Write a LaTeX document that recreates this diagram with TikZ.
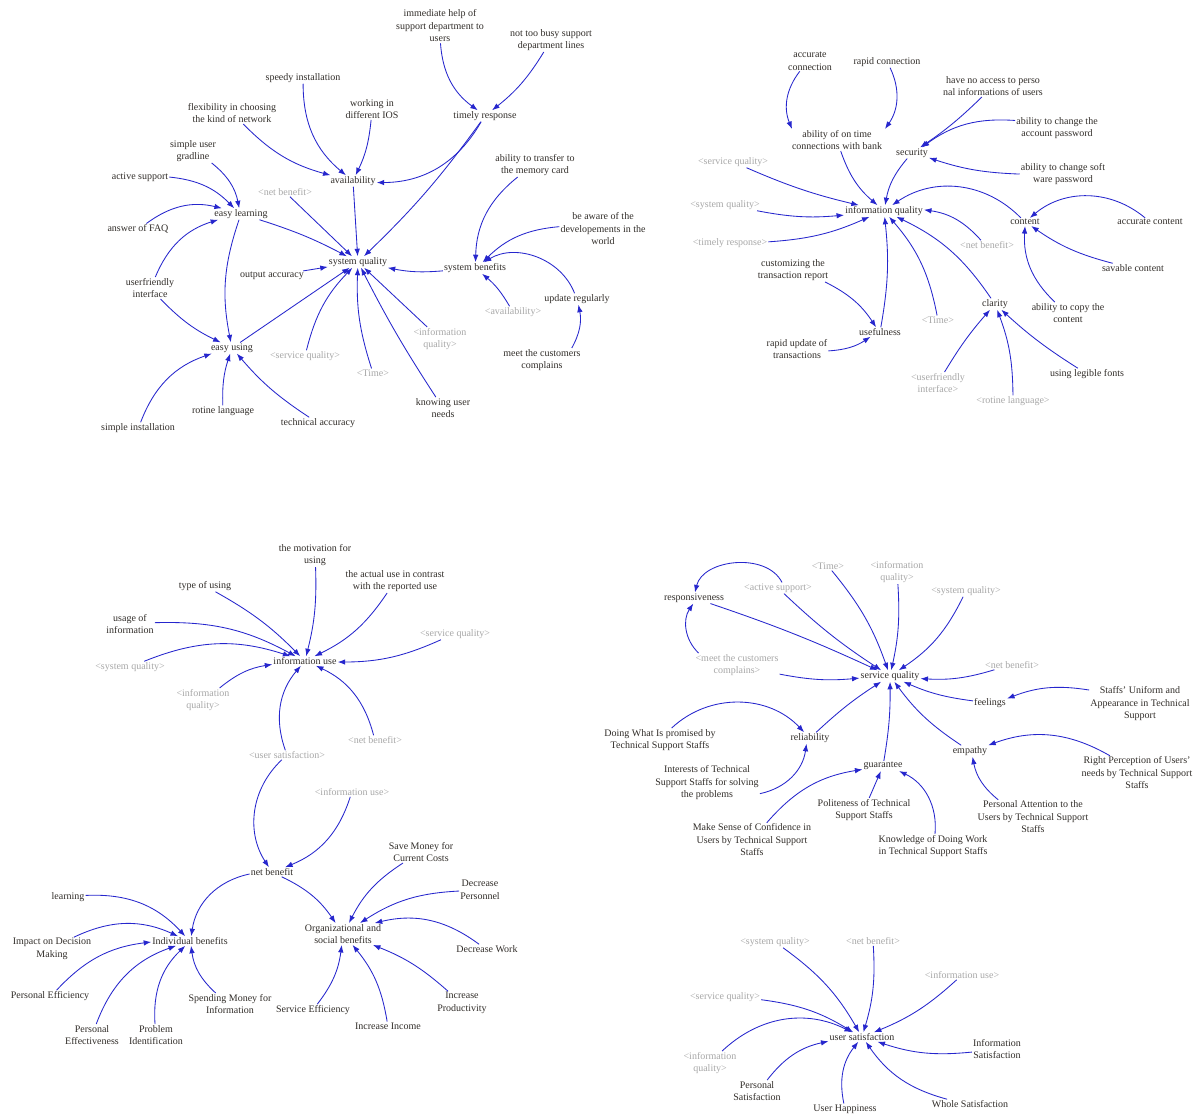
\documentclass[tikz,border=0pt]{standalone}
\usepackage{fontspec}
\setmainfont{Liberation Serif}
\usetikzlibrary{arrows.meta}
\definecolor{ink}{RGB}{50,46,42}
\definecolor{shade}{RGB}{168,168,168}
\definecolor{linkblue}{RGB}{38,38,205}
\newcommand\vsfont{\fontsize{10}{12.5}\selectfont}
\tikzset{
  v/.style={font=\vsfont, text=ink, align=center, inner sep=1pt},
  g/.style={v, text=shade},
  arr/.style={draw=linkblue, line width=0.85pt, -{Latex[length=7.5pt,width=5.5pt]}}
}
\begin{document}
\begin{tikzpicture}[x=1pt,y=-1pt]
\useasboundingbox[fill=white] (0,0) rectangle (1204,1117);

% ---------------- system quality ----------------
\node[v] (imh) at (440,26) {immediate help of\\support department to\\users};
\node[v] (ntb) at (551,40) {not too busy support\\department lines};
\node[v] (tr) at (485,116) {timely response};
\node[v] (spi) at (303,78) {speedy installation};
\node[v] (flx) at (232,113) {flexibility in choosing\\the kind of network};
\node[v] (wdi) at (372,109) {working in\\different IOS};
\node[v] (sug) at (193,151) {simple user\\gradline};
\node[v] (av) at (353,181) {availability};
\node[v] (acs) at (140,177) {active support};
\node[g] (nb1) at (285,192) {<net benefit>};
\node[v] (el) at (241,214) {easy learning};
\node[v] (atm) at (535,165) {ability to transfer to\\the memory card};
\node[v] (faq) at (138,229) {answer of FAQ};
\node[v] (bea) at (603,229) {be aware of the\\developements in the\\world};
\node[v] (sq) at (358,262) {system quality};
\node[v] (oa) at (272,276) {output accuracy};
\node[v] (sb) at (475,268) {system benefits};
\node[v] (ufi) at (150,288) {userfriendly\\interface};
\node[v] (ur) at (577,299) {update regularly};
\node[g] (av1) at (513,312) {<availability>};
\node[g] (iq1) at (440,339) {<information\\quality>};
\node[v] (eu) at (232,348) {easy using};
\node[g] (svq1) at (305,356) {<service quality>};
\node[v] (mcc) at (542,360) {meet the customers\\complains};
\node[g] (tm1) at (373,373) {<Time>};
\node[v] (kun) at (443,408) {knowing user\\needs};
\node[v] (rl) at (223,411) {rotine language};
\node[v] (ta) at (318,423) {technical accuracy};
\node[v] (si) at (138,428) {simple installation};

\draw[arr] (imh) to[bend right=25] (tr);
\draw[arr] (ntb) to[bend left=10] (tr);
\draw[arr] (tr) to[bend left=30] (av);
\draw[arr] (tr) to[bend left=5] (sq);
\draw[arr] (spi) to[bend right=25] (av);
\draw[arr] (wdi) to[bend left=10] (av);
\draw[arr] (flx) to[bend right=15] (av);
\draw[arr] (av) -- (sq);
\draw[arr] (nb1) -- (sq);
\draw[arr] (el) to[bend left=5] (sq);
\draw[arr] (acs) to[bend left=20] (el);
\draw[arr] (sug) to[bend left=20] (el);
\draw[arr] (faq) to[bend left=25] (el);
\draw[arr] (ufi) to[bend left=25] (el);
\draw[arr] (ufi) to[bend right=10] (eu);
\draw[arr] (el) to[bend right=15] (eu);
\draw[arr] (eu) -- (sq);
\draw[arr] (oa) -- (sq);
\draw[arr] (svq1) to[bend left=15] (sq);
\draw[arr] (tm1) to[bend left=10] (sq);
\draw[arr] (iq1) -- (sq);
\draw[arr] (kun) to[bend left=3] (sq);
\draw[arr] (sb) to[bend left=8] (sq);
\draw[arr] (si) to[bend left=25] (eu);
\draw[arr] (rl) to[bend left=10] (eu);
\draw[arr] (ta) to[bend left=8] (eu);
\draw[arr] (atm) to[bend right=25] (sb);
\draw[arr] (bea) to[bend right=20] (sb);
\draw[arr] (ur) to[bend right=50] (sb);
\draw[arr] (av1) to[bend right=10] (sb);
\draw[arr] ([xshift=-10pt]mcc.north east) to[bend right=20] (ur);

% ---------------- information quality ----------------
\node[v] (acn) at (810,61) {accurate\\connection};
\node[v] (rcn) at (887,62) {rapid connection};
\node[v] (hna) at (993,86) {have no access to perso\\nal informations of users};
\node[v] (acp) at (1057,128) {ability to change the\\account password};
\node[v] (aot) at (837,140) {ability of on time\\connections with bank};
\node[v] (sec) at (912,153) {security};
\node[g] (svq2) at (733,162) {<service quality>};
\node[v] (asp) at (1063,174) {ability to change soft\\ware password};
\node[g] (sq2) at (725,205) {<system quality>};
\node[v] (iq) at (884,211) {information quality};
\node[v] (cnt) at (1025,222) {content};
\node[v] (acc) at (1150,222) {accurate content};
\node[g] (tr2) at (730,243) {<timely response>};
\node[g] (nb2) at (987,245) {<net benefit>};
\node[v] (ctr) at (793,270) {customizing the\\transaction report};
\node[v] (svc) at (1133,268) {savable content};
\node[v] (clr) at (995,304) {clarity};
\node[v] (acy) at (1068,313) {ability to copy the\\content};
\node[g] (tm2) at (938,320) {<Time>};
\node[v] (usf) at (880,332) {usefulness};
\node[v] (rut) at (797,349) {rapid update of\\transactions};
\node[v] (ulf) at (1087,374) {using legible fonts};
\node[g] (ufi2) at (938,383) {<userfriendly\\interface>};
\node[g] (rl2) at (1013,401) {<rotine language>};

\draw[arr] (acn) to[bend right=30] ([xshift=-45pt]aot.north);
\draw[arr] (rcn) to[bend left=30] ([xshift=48pt]aot.north);
\draw[arr] (hna) to[bend left=5] (sec);
\draw[arr] (acp) to[bend right=20] (sec);
\draw[arr] (asp) to[bend left=8] (sec);
\draw[arr] (sec) to[bend right=15] (iq);
\draw[arr] (aot) to[bend right=15] (iq);
\draw[arr] (svq2) to[bend right=5] (iq);
\draw[arr] (sq2) to[bend right=8] (iq);
\draw[arr] (tr2) to[bend right=10] (iq);
\draw[arr] (cnt) to[bend right=40] (iq);
\draw[arr] (nb2) to[bend right=20] (iq);
\draw[arr] (acc) to[bend right=40] (cnt);
\draw[arr] (svc) to[bend left=10] (cnt);
\draw[arr] (acy) to[bend left=25] (cnt);
\draw[arr] (clr) to[bend right=15] (iq);
\draw[arr] (tm2) to[bend right=15] (iq);
\draw[arr] (usf) to[bend right=8] (iq);
\draw[arr] (ctr) to[bend left=15] (usf);
\draw[arr] (rut) to[bend right=15] (usf);
\draw[arr] (ufi2) to[bend left=5] (clr);
\draw[arr] (rl2) to[bend right=10] (clr);
\draw[arr] (ulf) to[bend left=5] (clr);

% ---------------- information use and net benefit ----------------
\node[v] (mfu) at (315,555) {the motivation for\\using};
\node[v] (tou) at (205,586) {type of using};
\node[v] (aur) at (395,581) {the actual use in contrast\\with the reported use};
\node[v] (uoi) at (130,624) {usage of\\information};
\node[g] (svq3) at (455,634) {<service quality>};
\node[g] (sq3) at (130,667) {<system quality>};
\node[v] (iu) at (305,661) {information use};
\node[g] (iq3) at (203,700) {<information\\quality>};
\node[g] (nb3) at (375,740) {<net benefit>};
\node[g] (us3) at (287,755) {<user satisfaction>};
\node[g] (iu3) at (352,792) {<information use>};
\node[v] (nb) at (272,872) {net benefit};
\node[v] (smc) at (421,852) {Save Money for\\Current Costs};
\node[v] (dp) at (480,890) {Decrease\\Personnel};
\node[v] (lrn) at (68,897) {learning};
\node[v] (osb) at (343,934) {Organizational and\\social benefits};
\node[v] (idm) at (52,949) {Impact on Decision\\Making};
\node[v] (ib) at (190,941) {Individual benefits};
\node[v] (dw) at (487,949) {Decrease Work};
\node[v] (pef) at (50,996) {Personal Efficiency};
\node[v] (smi) at (230,1004) {Spending Money for\\Information};
\node[v] (ip) at (462,1003) {Increase\\Productivity};
\node[v] (sef) at (313,1010) {Service Efficiency};
\node[v] (pet) at (92,1035) {Personal\\Effectiveness};
\node[v] (pid) at (156,1035) {Problem\\Identification};
\node[v] (ii) at (388,1026) {Increase Income};

\draw[arr] (mfu) to[bend left=8] (iu);
\draw[arr] (tou) to[bend left=8] (iu);
\draw[arr] (aur) to[bend left=15] (iu);
\draw[arr] (uoi) to[bend left=15] (iu);
\draw[arr] (sq3) to[bend left=20] (iu);
\draw[arr] (svq3) to[bend left=12] (iu);
\draw[arr] (iq3) to[bend left=15] (iu);
\draw[arr] (nb3) to[bend right=25] (iu);
\draw[arr] (us3) to[bend left=30] (iu);
\draw[arr] (us3) to[bend right=40] (nb);
\draw[arr] (iu3) to[bend left=25] (nb);
\draw[arr] (nb) to[bend right=35] (ib);
\draw[arr] (nb) to[bend left=15] (osb);
\draw[arr] (smc) to[bend right=15] (osb);
\draw[arr] (dp) to[bend right=15] (osb);
\draw[arr] (dw) to[bend right=25] (osb);
\draw[arr] (ip) to[bend right=10] (osb);
\draw[arr] (ii) to[bend right=15] (osb);
\draw[arr] (sef) to[bend right=15] (osb);
\draw[arr] (lrn) to[bend left=25] (ib);
\draw[arr] (idm) to[bend left=25] (ib);
\draw[arr] (pef) to[bend left=20] (ib);
\draw[arr] (pet) to[bend left=25] (ib);
\draw[arr] (pid) to[bend left=25] (ib);
\draw[arr] (smi) to[bend left=20] (ib);

% ---------------- service quality ----------------
\node[g] (tm4) at (828,566) {<Time>};
\node[g] (iq4) at (897,572) {<information\\quality>};
\node[v] (rsp) at (694,598) {responsiveness};
\node[g] (as4) at (778,588) {<active support>};
\node[g] (sq4) at (966,591) {<system quality>};
\node[g] (mcc4) at (737,665) {<meet the customers\\complains>};
\node[g] (nb4) at (1012,665) {<net benefit>};
\node[v] (svq) at (890,676) {service quality};
\node[v] (suf) at (1140,704) {Staffs' Uniform and\\Appearance in Technical\\Support};
\node[v] (fel) at (990,703) {feelings};
\node[v] (dwp) at (660,740) {Doing What Is promised by\\Technical Support Staffs};
\node[v] (rel) at (810,738) {reliability};
\node[v] (emp) at (970,751) {empathy};
\node[v] (rpu) at (1137,773) {Right Perception of Users'\\needs by Technical Support\\Staffs};
\node[v] (gua) at (883,766) {guarantee};
\node[v] (its) at (707,783) {Interests of Technical\\Support Staffs for solving\\the problems};
\node[v] (pot) at (864,810) {Politeness of Technical\\Support Staffs};
\node[v] (pat) at (1033,817) {Personal Attention to the\\Users by Technical Support\\Staffs};
\node[v] (msc) at (752,840) {Make Sense of Confidence in\\Users by Technical Support\\Staffs};
\node[v] (kdw) at (933,846) {Knowledge of Doing Work\\in Technical Support Staffs};

\draw[arr] ([xshift=4pt]as4.north) to[bend right=70] (rsp);
\draw[arr] (mcc4) to[bend left=40] (rsp);
\draw[arr] (rsp) to[bend left=3] (svq);
\draw[arr] (as4) to[bend right=5] (svq);
\draw[arr] (tm4) to[bend left=10] (svq);
\draw[arr] (iq4) to[bend left=8] (svq);
\draw[arr] (sq4) to[bend left=15] (svq);
\draw[arr] (nb4) to[bend left=10] (svq);
\draw[arr] (mcc4) to[bend right=8] (svq);
\draw[arr] (fel) to[bend left=8] (svq);
\draw[arr] (suf) to[bend right=15] (fel);
\draw[arr] (rel) to[bend left=5] (svq);
\draw[arr] (gua) to[bend right=5] (svq);
\draw[arr] (emp) to[bend left=10] (svq);
\draw[arr] (dwp) to[bend left=45] (rel);
\draw[arr] (its) to[bend right=35] (rel);
\draw[arr] (msc) to[bend left=20] (gua);
\draw[arr] (pot) -- (gua);
\draw[arr] ([xshift=2pt]kdw.north) to[bend right=35] (gua);
\draw[arr] (pat) to[bend left=20] (emp);
\draw[arr] (rpu) to[bend right=25] (emp);

% ---------------- user satisfaction ----------------
\node[g] (sq5) at (775,942) {<system quality>};
\node[g] (nb5) at (873,941) {<net benefit>};
\node[g] (iu5) at (962,975) {<information use>};
\node[g] (svq5) at (725,997) {<service quality>};
\node[v] (usat) at (862,1037) {user satisfaction};
\node[g] (iq5) at (710,1063) {<information\\quality>};
\node[v] (isat) at (997,1049) {Information\\Satisfaction};
\node[v] (psat) at (757,1091) {Personal\\Satisfaction};
\node[v] (uh) at (845,1109) {User Happiness};
\node[v] (ws) at (970,1104) {Whole Satisfaction};

\draw[arr] (sq5) to[bend left=12] (usat);
\draw[arr] (nb5) to[bend left=10] (usat);
\draw[arr] (iu5) to[bend left=10] (usat);
\draw[arr] (svq5) to[bend left=12] (usat);
\draw[arr] (iq5) to[bend left=35] (usat);
\draw[arr] (psat) to[bend left=20] (usat);
\draw[arr] (uh) to[bend left=25] (usat);
\draw[arr] (ws) to[bend left=20] (usat);
\draw[arr] (isat) to[bend left=12] (usat);
\end{tikzpicture}
\end{document}
